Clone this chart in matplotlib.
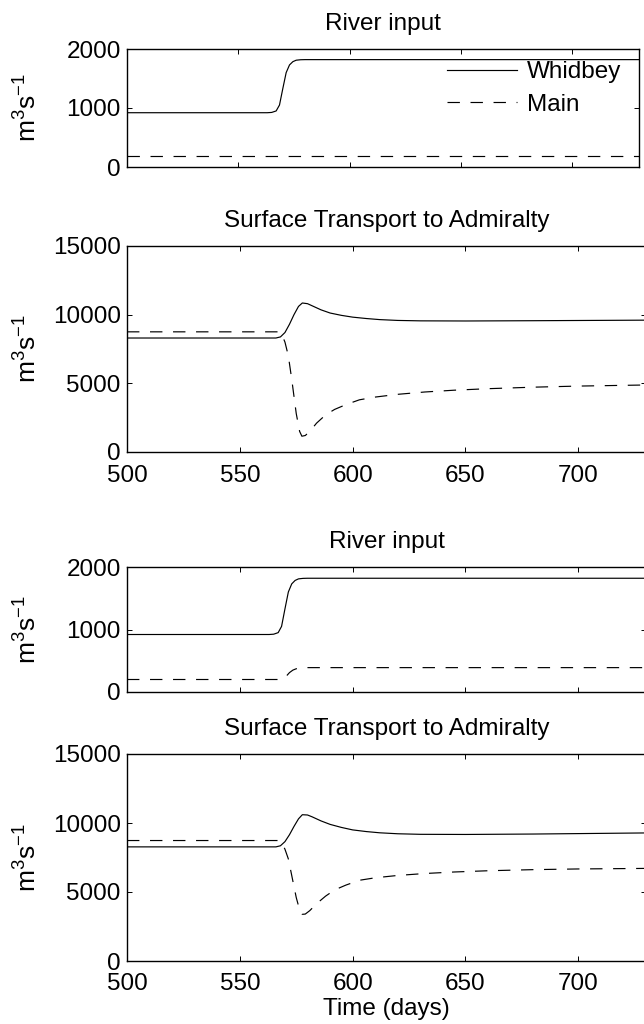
import matplotlib
matplotlib.use('Agg')
import matplotlib.pyplot as plt

plt.rcParams['font.family'] = ['Liberation Sans', 'DejaVu Sans']
plt.rcParams['mathtext.fontset'] = 'custom'
plt.rcParams['mathtext.rm'] = 'Liberation Sans'
plt.rcParams['mathtext.default'] = 'regular'
plt.rcParams['font.size'] = 17.5

# --- data ---
# top pair: river input
river_days = [500, 563, 565, 567, 568.5, 570, 571.5, 573, 574.5, 576, 578, 580, 730]
whidbey_river = [920, 920, 925, 950, 1050, 1330, 1600, 1730, 1785, 1810, 1818, 1820, 1820]
main_river_days_a = [500, 730]
main_river_a = [190, 190]
main_river_days_b = [500, 567, 569, 570.5, 572, 573.5, 575, 577, 580, 730]
main_river_b = [200, 200, 210, 250, 310, 350, 372, 385, 390, 390]

# surface transport to Admiralty
whid_days = [500, 566, 568, 570, 572, 574, 576, 577.7, 580, 582, 586, 590, 595, 600,
             606, 612, 620, 630, 650, 680, 730]
whid_trans_a = [8300, 8300, 8380, 8700, 9300, 10000, 10600, 10850, 10800, 10650, 10350,
                10120, 9950, 9820, 9720, 9640, 9580, 9550, 9540, 9560, 9600]
whid_trans_b = [8270, 8270, 8350, 8650, 9150, 9750, 10300, 10600, 10580, 10450, 10150,
                9900, 9680, 9500, 9380, 9290, 9220, 9180, 9170, 9200, 9280]

main_days = [500, 567, 568.5, 570, 571.5, 573, 575, 576.5, 577.5, 579, 581, 584, 588,
             592, 597, 603, 610, 620, 632, 645, 660, 680, 700, 730]
main_trans_a = [8750, 8750, 8600, 8000, 7000, 5300, 2800, 1500, 1150, 1200, 1500, 2100,
                2700, 3100, 3450, 3800, 4000, 4200, 4370, 4500, 4610, 4720, 4800, 4880]
main_trans_b = [8730, 8730, 8600, 8100, 7400, 6200, 4600, 3700, 3380, 3400, 3650, 4150,
                4700, 5150, 5500, 5850, 6030, 6200, 6340, 6450, 6540, 6620, 6670, 6710]

xticks = [500, 550, 600, 650, 700]
river_yticks = [0, 1000, 2000]
trans_yticks = [0, 5000, 10000, 15000]

W, H = 644, 1024
fig = plt.figure(figsize=(W / 100, H / 100), dpi=100)


def px_axes(left, right, top, bottom):
    return fig.add_axes([left / W, 1 - bottom / H, (right - left) / W, (bottom - top) / H])


boxes = [(127, 639, 49, 167), (127, 646, 246, 452), (127, 646, 567, 692), (127, 646, 754, 961)]
axes = [px_axes(*b) for b in boxes]

dash = (10.5, 9)
fs = 17.5


def style(ax, box, ylim, yticks, title, show_x):
    ax.set_xlim(500, 730)
    ax.set_ylim(*ylim)
    ax.set_xticks(xticks)
    ax.set_yticks(yticks)
    ax.tick_params(direction='in', top=True, right=True, length=3.6, width=0.7,
                   labelsize=fs)
    ax.tick_params(axis='y', pad=4.5)
    ax.tick_params(axis='x', pad=9)
    if not show_x:
        ax.set_xticklabels([])
    for s in ax.spines.values():
        s.set_linewidth(1.0)
    ax.set_title(title, fontsize=fs, pad=14)
    ax.set_ylabel('m$^3$s$^{-1}$', fontsize=19)
    wpx = box[1] - box[0]
    ax.yaxis.set_label_coords((42 - box[0]) / wpx, 0.5)


lw = 0.85
ax = axes[0]
ax.plot(river_days, whidbey_river, color='k', lw=lw, label='Whidbey')
ax.plot(main_river_days_a, main_river_a, color='k', lw=lw, dashes=dash, label='Main')
style(ax, boxes[0], (0, 2000), river_yticks, 'River input', False)
ax.legend(loc='upper left', bbox_to_anchor=((447 - 127) / 512, 1 - (61 - 49) / 118),
          frameon=False, borderpad=0, borderaxespad=0, handlelength=2.9,
          handletextpad=0.4, labelspacing=0.45, fontsize=fs)

ax = axes[1]
ax.plot(whid_days, whid_trans_a, color='k', lw=lw)
ax.plot(main_days, main_trans_a, color='k', lw=lw, dashes=dash)
style(ax, boxes[1], (0, 15000), trans_yticks, 'Surface Transport to Admiralty', True)

ax = axes[2]
ax.plot(river_days, whidbey_river, color='k', lw=lw)
ax.plot(main_river_days_b, main_river_b, color='k', lw=lw, dashes=dash)
style(ax, boxes[2], (0, 2000), river_yticks, 'River input', False)

ax = axes[3]
ax.plot(whid_days, whid_trans_b, color='k', lw=lw)
ax.plot(main_days, main_trans_b, color='k', lw=lw, dashes=dash)
style(ax, boxes[3], (0, 15000), trans_yticks, 'Surface Transport to Admiralty', True)
ax.set_xlabel('Time (days)', fontsize=fs, labelpad=2)

fig.savefig('out.png', dpi=100)
